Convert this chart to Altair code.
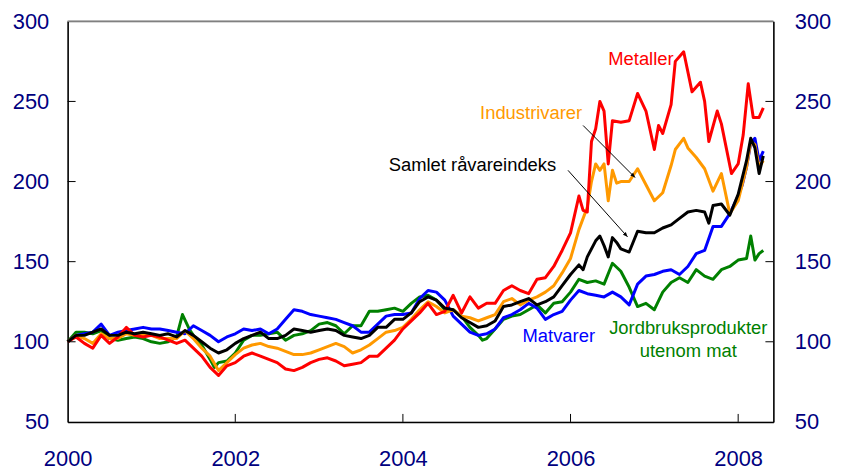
import altair as alt
import pandas as pd

# ---------------- data ----------------
met_t = [2000.0, 2000.1, 2000.2, 2000.3, 2000.4, 2000.5, 2000.6, 2000.7, 2000.8, 2000.9,
         2001.0, 2001.1, 2001.2, 2001.3, 2001.4, 2001.5, 2001.6, 2001.7, 2001.8, 2001.9,
         2002.0, 2002.1, 2002.2, 2002.3, 2002.4, 2002.5, 2002.6, 2002.7, 2002.8, 2002.9,
         2003.0, 2003.1, 2003.2, 2003.3, 2003.4, 2003.5, 2003.6, 2003.7, 2003.8, 2003.9,
         2004.0, 2004.1, 2004.2, 2004.3, 2004.4, 2004.5, 2004.6, 2004.7, 2004.8, 2004.9,
         2005.0, 2005.1, 2005.2, 2005.3, 2005.4, 2005.5, 2005.6, 2005.7, 2005.8, 2005.9,
         2006.0, 2006.1, 2006.15, 2006.2, 2006.25, 2006.3, 2006.35, 2006.4, 2006.45, 2006.5,
         2006.6, 2006.7, 2006.8, 2006.9, 2007.0, 2007.05, 2007.1, 2007.2, 2007.25, 2007.35,
         2007.45, 2007.55, 2007.6, 2007.65, 2007.75, 2007.8, 2007.92, 2008.0, 2008.06, 2008.12,
         2008.18, 2008.25, 2008.3]
met_v = [100, 103, 99, 96, 104, 99, 103, 109, 104, 103,
         104, 103, 101, 99, 101, 96, 91, 84, 79, 85,
         87, 91, 93, 91, 89, 87, 83, 82, 84, 87,
         89, 90, 88, 85, 86, 87, 91, 91, 96, 101,
         108, 113, 118, 124, 117, 119, 129, 118, 128, 121,
         124, 124, 132, 135, 132, 130, 139, 140, 147, 157,
         168, 191, 182, 181, 225, 233, 250, 244, 211, 238,
         237, 238, 255, 244, 220, 235, 230, 248, 275, 281,
         256, 262, 250, 225, 244, 236, 205, 211, 229, 261,
         240, 240, 246]

ind_t = [2000.0, 2000.1, 2000.2, 2000.3, 2000.4, 2000.5, 2000.6, 2000.7, 2000.8, 2000.9,
         2001.0, 2001.1, 2001.2, 2001.3, 2001.4, 2001.5, 2001.6, 2001.7, 2001.8, 2001.9,
         2002.0, 2002.1, 2002.2, 2002.3, 2002.4, 2002.5, 2002.6, 2002.7, 2002.8, 2002.9,
         2003.0, 2003.1, 2003.2, 2003.3, 2003.4, 2003.5, 2003.6, 2003.7, 2003.8, 2003.9,
         2004.0, 2004.1, 2004.2, 2004.3, 2004.4, 2004.5, 2004.6, 2004.7, 2004.8, 2004.9,
         2005.0, 2005.1, 2005.2, 2005.3, 2005.4, 2005.5, 2005.6, 2005.7, 2005.8, 2005.9,
         2006.0, 2006.1, 2006.2, 2006.25, 2006.3, 2006.35, 2006.4, 2006.45, 2006.5, 2006.55,
         2006.6, 2006.7, 2006.8, 2006.9, 2007.0, 2007.1, 2007.2, 2007.25, 2007.35, 2007.4,
         2007.5, 2007.6, 2007.7, 2007.8, 2007.9, 2008.0, 2008.1, 2008.15, 2008.2, 2008.25,
         2008.3]
ind_v = [100, 104, 102, 99, 105, 102, 102, 105, 104, 104,
         104, 102, 102, 102, 107, 102, 96, 91, 82, 87,
         92, 96, 98, 99, 97, 96, 94, 92, 92, 93,
         95, 97, 99, 97, 93, 95, 98, 102, 106, 107,
         109, 114, 120, 125, 122, 118, 120, 116, 115, 113,
         115, 117, 125, 127, 123, 126, 128, 131, 135, 143,
         152, 170, 184, 200, 211, 207, 211, 188, 207, 199,
         200, 200, 208, 198, 188, 193, 210, 220, 227, 221,
         215, 208, 194, 205, 180, 188, 209, 225, 223, 209,
         213]

sam_t = [2000.0, 2000.1, 2000.2, 2000.3, 2000.4, 2000.5, 2000.6, 2000.7, 2000.8, 2000.9,
         2001.0, 2001.1, 2001.2, 2001.3, 2001.4, 2001.5, 2001.6, 2001.7, 2001.8, 2001.9,
         2002.0, 2002.1, 2002.2, 2002.3, 2002.4, 2002.5, 2002.6, 2002.7, 2002.8, 2002.9,
         2003.0, 2003.1, 2003.2, 2003.3, 2003.4, 2003.5, 2003.6, 2003.7, 2003.8, 2003.9,
         2004.0, 2004.1, 2004.2, 2004.3, 2004.4, 2004.5, 2004.6, 2004.7, 2004.8, 2004.9,
         2005.0, 2005.1, 2005.2, 2005.3, 2005.4, 2005.5, 2005.6, 2005.7, 2005.8, 2005.9,
         2006.0, 2006.1, 2006.15, 2006.2, 2006.3, 2006.35, 2006.4, 2006.45, 2006.5, 2006.55,
         2006.6, 2006.7, 2006.8, 2006.9, 2007.0, 2007.1, 2007.2, 2007.3, 2007.4, 2007.5,
         2007.6, 2007.65, 2007.7, 2007.8, 2007.9, 2008.0, 2008.1, 2008.15, 2008.2, 2008.25,
         2008.3]
sam_v = [100, 104, 104, 106, 108, 104, 104, 106, 105, 106,
         105, 104, 105, 103, 107, 104, 100, 96, 93, 95,
         99, 102, 104, 106, 102, 102, 104, 108, 107, 106,
         107, 108, 107, 104, 103, 102, 104, 109, 109, 114,
         114, 118, 125, 128, 126, 121, 120, 115, 112, 109,
         110, 113, 122, 123, 125, 127, 123, 125, 128, 135,
         142, 148, 145, 153, 163, 166, 160, 153, 165, 162,
         158, 156, 169, 168, 168, 171, 173, 177, 181, 182,
         181, 174, 185, 186, 179, 192, 213, 227, 221, 205,
         216]

mat_t = [2000.0, 2000.1, 2000.2, 2000.3, 2000.4, 2000.5, 2000.6, 2000.7, 2000.8, 2000.9,
         2001.0, 2001.1, 2001.2, 2001.3, 2001.4, 2001.5, 2001.6, 2001.7, 2001.8, 2001.9,
         2002.0, 2002.1, 2002.2, 2002.3, 2002.4, 2002.5, 2002.6, 2002.7, 2002.8, 2002.9,
         2003.0, 2003.1, 2003.2, 2003.3, 2003.4, 2003.5, 2003.6, 2003.7, 2003.8, 2003.9,
         2004.0, 2004.1, 2004.2, 2004.3, 2004.4, 2004.5, 2004.6, 2004.7, 2004.8, 2004.9,
         2005.0, 2005.1, 2005.2, 2005.3, 2005.4, 2005.5, 2005.6, 2005.7, 2005.8, 2005.9,
         2006.0, 2006.1, 2006.2, 2006.3, 2006.4, 2006.5, 2006.6, 2006.7, 2006.8, 2006.9,
         2007.0, 2007.1, 2007.2, 2007.3, 2007.4, 2007.5, 2007.6, 2007.7, 2007.8, 2007.9,
         2008.0, 2008.05, 2008.1, 2008.15, 2008.2, 2008.25, 2008.3]
mat_v = [100, 104, 105, 106, 111, 104, 106, 107, 108, 109,
         108, 108, 107, 106, 105, 110, 107, 104, 100, 103,
         105, 108, 107, 108, 105, 108, 114, 120, 119, 117,
         116, 115, 114, 112, 110, 106, 106, 111, 116, 117,
         117, 118, 127, 132, 131, 126, 116, 111, 106, 104,
         105, 108, 115, 117, 120, 124, 121, 114, 117, 119,
         126, 132, 130, 129, 128, 131, 128, 123, 136, 141,
         142, 144, 145, 142, 147, 155, 157, 172, 172, 180,
         191, 198, 209, 224, 227, 213, 219]

jor_t = [2000.0, 2000.1, 2000.2, 2000.3, 2000.4, 2000.5, 2000.6, 2000.7, 2000.8, 2000.9,
         2001.0, 2001.1, 2001.2, 2001.3, 2001.37, 2001.45, 2001.5, 2001.6, 2001.7, 2001.75,
         2001.8, 2001.9, 2002.0, 2002.1, 2002.2, 2002.3, 2002.4, 2002.5, 2002.6, 2002.7,
         2002.8, 2002.9, 2003.0, 2003.1, 2003.2, 2003.3, 2003.4, 2003.5, 2003.6, 2003.7,
         2003.8, 2003.9, 2004.0, 2004.1, 2004.2, 2004.3, 2004.4, 2004.5, 2004.6, 2004.7,
         2004.8, 2004.9, 2004.95, 2005.0, 2005.1, 2005.2, 2005.3, 2005.4, 2005.5, 2005.6,
         2005.7, 2005.8, 2005.9, 2006.0, 2006.1, 2006.2, 2006.3, 2006.4, 2006.5, 2006.6,
         2006.7, 2006.8, 2006.9, 2007.0, 2007.1, 2007.2, 2007.3, 2007.4, 2007.5, 2007.6,
         2007.7, 2007.8, 2007.9, 2008.0, 2008.1, 2008.15, 2008.2, 2008.25, 2008.3]
jor_v = [100, 106, 106, 105, 107, 102, 101, 102, 103, 102,
         100, 99, 100, 103, 117, 108, 104, 98, 89, 84,
         87, 88, 93, 101, 104, 104, 105, 106, 101, 104,
         105, 107, 111, 112, 110, 105, 110, 110, 119, 119,
         120, 121, 119, 124, 128, 129, 126, 120, 120, 116,
         109, 104, 101, 102, 108, 114, 116, 117, 120, 123,
         118, 124, 125, 131, 139, 137, 138, 136, 149, 144,
         134, 122, 124, 120, 131, 137, 140, 137, 145, 141,
         139, 145, 147, 151, 152, 166, 151, 155, 157]

series_names = ["Jordbruksprodukter utenom mat", "Matvarer", "Industrivarer",
                "Metaller", "Samlet råvareindeks"]
series_colors = ["#008000", "#0000FF", "#FF9900", "#FF0000", "#000000"]

# annotation labels (data coordinates)
label_text = ["Metaller", "Industrivarer", "Samlet råvareindeks", "Matvarer",
              "Jordbruksprodukter", "utenom mat"]
label_series = ["Metaller", "Industrivarer", "Samlet råvareindeks", "Matvarer",
                "Jordbruksprodukter utenom mat", "Jordbruksprodukter utenom mat"]
label_t = [2006.84, 2005.53, 2004.83, 2005.86, 2007.405, 2007.405]
label_v = [276.5, 243.0, 210.0, 103.5, 108.5, 94.0]

# arrows (data coordinates)
arrow_t1 = [2006.15, 2005.97]
arrow_v1 = [235.0, 207.0]
arrow_t2 = [2006.77, 2006.68]
arrow_v2 = [202.5, 165.5]
arrow_ang = [135, 138]

x_ticks = [2000, 2002, 2004, 2006, 2008]
x_inner_ticks = [2002, 2004, 2006, 2008]
y_ticks = [50, 100, 150, 200, 250, 300]
y_inner_ticks = [100, 150, 200, 250]

# ---------------- chart ----------------
W, H = 710, 403
NAVY = "#000080"
FONT = "Liberation Sans"

frames = []
for name, t, v in [(series_names[0], jor_t, jor_v), (series_names[1], mat_t, mat_v),
                   (series_names[2], ind_t, ind_v), (series_names[3], met_t, met_v),
                   (series_names[4], sam_t, sam_v)]:
    frames.append(pd.DataFrame({"t": t, "v": v, "s": name}))
data = pd.concat(frames, ignore_index=True)

xscale = alt.Scale(domain=[2000, 2008.42], nice=False, zero=False)
yscale = alt.Scale(domain=[50, 300], nice=False, zero=False)
cscale = alt.Scale(domain=series_names, range=series_colors)

xaxis = alt.Axis(values=x_ticks, format="d", tickSize=0, labelPadding=27,
                 labelFontSize=22, labelColor=NAVY, labelFont=FONT, labelFlush=False,
                 domainColor="#000000", domainWidth=1.5, grid=False, title=None)
yaxis_l = alt.Axis(values=y_ticks, orient="left", tickSize=0, labelPadding=19,
                   labelFontSize=22, labelColor=NAVY, labelFont=FONT,
                   domainColor="#000000", domainWidth=1.5, grid=False, title=None)
yaxis_r = alt.Axis(values=y_ticks, orient="right", tickSize=0, labelPadding=21,
                   labelFontSize=22, labelColor=NAVY, labelFont=FONT,
                   domainColor="#000000", domainWidth=1.5, grid=False, title=None)

X = lambda f: alt.X(f, scale=xscale, axis=xaxis)
Y = lambda f: alt.Y(f, scale=yscale, axis=yaxis_l)

layers = []
for name in series_names:
    layers.append(
        alt.Chart(data).transform_filter(alt.datum.s == name)
        .mark_line(strokeWidth=3, strokeJoin="round")
        .encode(
            x=X("t:Q"),
            y=Y("v:Q"),
            color=alt.Color("s:N", scale=cscale, legend=None),
            order=alt.Order("t:Q"),
        )
    )

labels_df = pd.DataFrame({"t": label_t, "v": label_v, "txt": label_text, "s": label_series})
labels = alt.Chart(labels_df).mark_text(fontSize=18.5, font=FONT).encode(
    x=X("t:Q"), y=Y("v:Q"),
    text="txt:N",
    color=alt.Color("s:N", scale=cscale, legend=None),
)

arrows_df = pd.DataFrame({"t1": arrow_t1, "v1": arrow_v1, "t2": arrow_t2,
                          "v2": arrow_v2, "a": arrow_ang})
arrow_lines = alt.Chart(arrows_df).mark_rule(color="black", strokeWidth=1).encode(
    x=X("t1:Q"), y=Y("v1:Q"), x2="t2:Q", y2="v2:Q",
)
arrow_heads = alt.Chart(arrows_df).mark_point(
    shape="M0,0L-0.42,1L0.42,1Z", filled=True, color="black", size=90, opacity=1
).encode(
    x=X("t2:Q"), y=Y("v2:Q"),
    angle=alt.Angle("a:Q", scale=None),
)

xt_df = pd.DataFrame({"t": x_inner_ticks})
x_tick_marks = alt.Chart(xt_df).mark_rule(color="black", strokeWidth=1).encode(
    x=X("t:Q"), y=alt.value(H - 8), y2=alt.value(H),
)
yt_df = pd.DataFrame({"v": y_inner_ticks})
y_tick_left = alt.Chart(yt_df).mark_rule(color="black", strokeWidth=1).encode(
    y=Y("v:Q"), x=alt.value(0), x2=alt.value(8),
)
top_line = alt.Chart(yt_df).mark_rule(color="#808080", strokeWidth=1).encode(
    x=alt.value(0), x2=alt.value(W), y=alt.value(0),
)

main = alt.layer(*layers, labels, arrow_lines, arrow_heads, x_tick_marks, y_tick_left, top_line)

right = alt.Chart(yt_df).mark_rule(color="black", strokeWidth=1).encode(
    y=alt.Y("v:Q", scale=yscale, axis=yaxis_r), x=alt.value(W - 8), x2=alt.value(W),
)

chart = (
    alt.layer(main, right)
    .resolve_scale(y="independent")
    .properties(width=W, height=H, padding={"left": 4, "top": 1, "right": 2, "bottom": 0},
                background="white")
    .configure_view(stroke="#808080", strokeWidth=1)
)

chart.save("out.html", embed_options={"renderer": "svg", "actions": False})
